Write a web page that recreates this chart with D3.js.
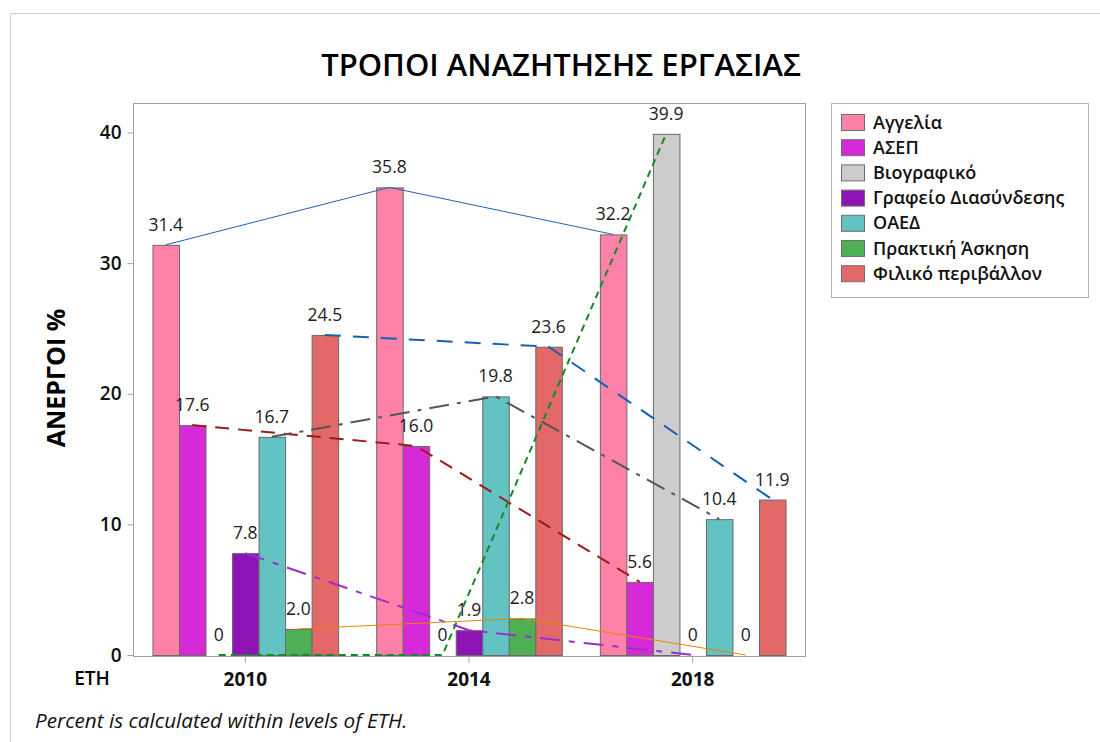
<!DOCTYPE html>
<html>
<head>
<meta charset="utf-8">
<script src="https://cdnjs.cloudflare.com/ajax/libs/d3/7.8.5/d3.min.js"></script>
<style>
  body { margin: 0; background: #fff; }
  svg { font-family: "Open Sans", "Noto Sans", sans-serif; }
</style>
</head>
<body>
<div id="chart"></div>
<script>
// data
var years = ["2010", "2014", "2018"];
var categories = ["Αγγελία", "ΑΣΕΠ", "Βιογραφικό", "Γραφείο Διασύνδεσης", "ΟΑΕΔ", "Πρακτική Άσκηση", "Φιλικό περιβάλλον"];
var aggelia   = [31.4, 35.8, 32.2];
var asep      = [17.6, 16.0, 5.6];
var viografiko = [0, 0, 39.9];
var grafeio   = [7.8, 1.9, 0];
var oaed      = [16.7, 19.8, 10.4];
var praktiki  = [2.0, 2.8, 0];
var filiko    = [24.5, 23.6, 11.9];
var yTicks = [0, 10, 20, 30, 40];

var series = [aggelia, asep, viografiko, grafeio, oaed, praktiki, filiko];

var colors = ["#fe82a8", "#d62ad9", "#cccccc", "#8e13b5", "#63c2c2", "#4faf55", "#e36868"];
var lineStyles = [
    { stroke: "#1f63b5", width: 1, dash: null },
    { stroke: "#9b1b1b", width: 2, dash: "14,9" },
    { stroke: "#15882a", width: 2, dash: "7,5" },
    { stroke: "#9a2fd0", width: 2, dash: "20,9,6,9" },
    { stroke: "#555555", width: 2, dash: "20,8,4,8" },
    { stroke: "#e08a00", width: 1, dash: null },
    { stroke: "#1660b2", width: 2, dash: "16,12" }
];

var W = 1100, H = 742;
var plot = { left: 133, right: 805, top: 103, bottom: 656 };

var svg = d3.select("#chart").append("svg")
    .attr("width", W)
    .attr("height", H);

// outer frame
svg.append("rect")
    .attr("x", 10.5).attr("y", 13.5)
    .attr("width", 1100).attr("height", 800)
    .attr("fill", "none").attr("stroke", "#cfcfcf");

svg.append("text")
    .attr("x", 561).attr("y", 76)
    .attr("text-anchor", "middle")
    .style("font-size", "31px")
    .style("font-weight", 600)
    .text("ΤΡΟΠΟΙ ΑΝΑΖΗΤΗΣΗΣ ΕΡΓΑΣΙΑΣ");

var x0 = d3.scaleBand()
    .domain(years)
    .range([plot.left, plot.right])
    .paddingInner(0.17)
    .paddingOuter(0.087);

var x1 = d3.scaleBand()
    .domain(categories)
    .range([0, x0.bandwidth()]);

var y = d3.scaleLinear()
    .domain([0, 40])
    .range([655, 132.5]);

// plot frame
svg.append("rect")
    .attr("x", plot.left + 0.5).attr("y", plot.top + 0.5)
    .attr("width", plot.right - plot.left).attr("height", plot.bottom - plot.top)
    .attr("fill", "none").attr("stroke", "#a0a0a0");

// y axis
var yAxis = svg.append("g")
    .attr("transform", "translate(" + (plot.left + 0.5) + ",0)")
    .call(d3.axisLeft(y).tickValues(yTicks).tickSize(6).tickPadding(6));
yAxis.select(".domain").remove();
yAxis.selectAll(".tick line").attr("stroke", "#a0a0a0");
yAxis.selectAll(".tick text")
    .style("font-size", "19px")
    .style("font-weight", 600)
    .attr("fill", "#111")
    .style("font-family", "'Open Sans', sans-serif");

// x axis
var xAxis = svg.append("g")
    .attr("transform", "translate(0," + (plot.bottom + 0.5) + ")")
    .call(d3.axisBottom(x0).tickSize(6));
xAxis.select(".domain").remove();
xAxis.selectAll(".tick line").attr("stroke", "#a0a0a0");
xAxis.selectAll(".tick text")
    .attr("y", 29)
    .attr("dy", null)
    .style("font-size", "19px")
    .style("font-weight", 700)
    .attr("fill", "#111")
    .style("font-family", "'Open Sans', sans-serif");

svg.append("text")
    .attr("x", 92).attr("y", 685)
    .attr("text-anchor", "middle")
    .style("font-size", "19px")
    .style("font-weight", 600)
    .text("ΕΤΗ");

svg.append("text")
    .attr("transform", "translate(65,378) rotate(-90)")
    .attr("text-anchor", "middle")
    .style("font-size", "25px")
    .style("font-weight", 700)
    .text("ΑΝΕΡΓΟΙ %");

// bars
var groups = svg.append("g").selectAll("g")
    .data(years)
    .join("g")
    .attr("transform", function(d) { return "translate(" + x0(d) + ",0)"; });

groups.selectAll("rect")
    .data(function(d, i) {
        return categories.map(function(c, k) { return { cat: c, k: k, v: series[k][i] }; });
    })
    .join("rect")
    .attr("x", function(d) { return x1(d.cat) + 0.5; })
    .attr("y", function(d) { return y(d.v) + 0.5; })
    .attr("width", x1.bandwidth())
    .attr("height", function(d) { return y(0) - y(d.v); })
    .attr("fill", function(d) { return colors[d.k]; })
    .attr("stroke", function(d) { return d.v > 0 ? "#6a6a6a" : "none"; });

// connect lines
var line = d3.line()
    .x(function(d) { return d.x; })
    .y(function(d) { return d.y; });

categories.forEach(function(c, k) {
    var pts = years.map(function(yr, i) {
        return { x: x0(yr) + x1(c) + x1.bandwidth() / 2, y: y(series[k][i]) };
    });
    svg.append("path")
        .attr("d", line(pts))
        .attr("fill", "none")
        .attr("stroke", lineStyles[k].stroke)
        .attr("stroke-width", lineStyles[k].width)
        .attr("stroke-dasharray", lineStyles[k].dash);
});

// value labels
groups.selectAll("text.val")
    .data(function(d, i) {
        return categories.map(function(c, k) { return { cat: c, k: k, v: series[k][i] }; });
    })
    .join("text")
    .attr("class", "val")
    .attr("x", function(d) { return x1(d.cat) + x1.bandwidth() / 2; })
    .attr("y", function(d) { return y(d.v) - 14; })
    .attr("text-anchor", "middle")
    .style("font-size", "17.5px")
    .attr("fill", "#222")
    .text(function(d) { return d.v === 0 ? "0" : d.v.toFixed(1); });

// legend
var legend = svg.append("g");
legend.append("rect")
    .attr("x", 831.5).attr("y", 103.5)
    .attr("width", 257).attr("height", 194)
    .attr("fill", "#fff").attr("stroke", "#b5b5b5");

var items = legend.selectAll("g.item")
    .data(categories)
    .join("g")
    .attr("class", "item")
    .attr("transform", function(d, i) { return "translate(841," + (114 + i * 25.2) + ")"; });

items.append("rect")
    .attr("x", 0.5).attr("y", 0.5)
    .attr("width", 23).attr("height", 16)
    .attr("fill", function(d, i) { return colors[i]; })
    .attr("stroke", "#707070");

items.append("text")
    .attr("x", 32).attr("y", 14.5)
    .style("font-size", "18px")
    .style("font-weight", 600)
    .attr("fill", "#111")
    .text(function(d) { return d; });

svg.append("text")
    .attr("x", 35).attr("y", 728)
    .style("font-size", "20.7px")
    .style("font-style", "italic")
    .attr("fill", "#111")
    .text("Percent is calculated within levels of ETH.");
</script>
</body>
</html>
